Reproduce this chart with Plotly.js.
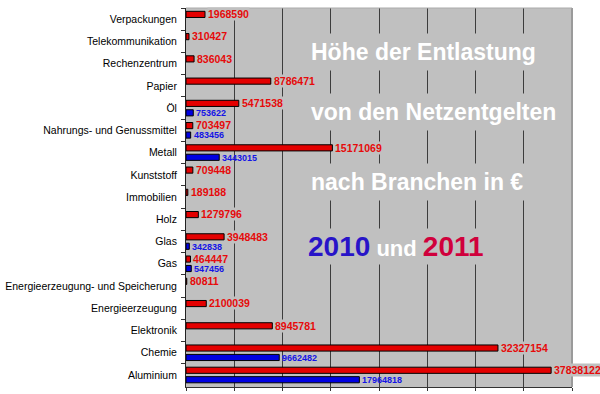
<!DOCTYPE html>
<html><head><meta charset="utf-8">
<script src="https://cdn.plot.ly/plotly-3.0.1.min.js"></script>
<style>html,body{margin:0;padding:0;background:#fff}#chart{width:600px;height:394px}</style>
</head><body><div id="chart"></div>
<script>
const categories = ["Verpackungen","Telekommunikation","Rechenzentrum","Papier","Öl","Nahrungs- und Genussmittel","Metall","Kunststoff","Immobilien","Holz","Glas","Gas","Energieerzeugung- und Speicherung","Energieerzeugung","Elektronik","Chemie","Aluminium"];
const values2011 = [1968590,310427,836043,8786471,5471538,703497,15171069,709448,189188,1279796,3948483,464447,80811,2100039,8945781,32327154,37838122];
const values2010 = [null,null,null,null,753622,483456,3443015,null,null,null,342838,547456,null,null,null,9662482,17964818];
const titleLines = ["Höhe der Entlastung","von den Netzentgelten","nach Branchen in €"];
const yearLabels = ["2010","und","2011"];

const RED = "rgb(228,0,0)", BLUE = "rgb(0,0,225)";
const GRAY = "rgb(192,192,192)";
const FONT = "Liberation Sans, Arial, sans-serif";

const traces = [
  {type:"bar", orientation:"h", name:"2011", y:categories, x:values2011,
   marker:{color:RED, line:{color:"#000", width:1}}, hoverinfo:"x+y"},
  {type:"bar", orientation:"h", name:"2010", y:categories, x:values2010,
   marker:{color:BLUE, line:{color:"#000", width:1}}, hoverinfo:"x+y"}
];

const annotations = [];
categories.forEach((c,i)=>{
  if (values2011[i] != null) annotations.push({x:values2011[i], y:c, xref:"x", yref:"y",
    text:String(values2011[i]), showarrow:false, xanchor:"left", yanchor:"middle",
    xshift:2, yshift:5, bgcolor:GRAY, borderpad:0,
    font:{family:FONT, size:10.5, color:"rgb(230,10,10)", weight:"bold"}});
  if (values2010[i] != null) annotations.push({x:values2010[i], y:c, xref:"x", yref:"y",
    text:String(values2010[i]), showarrow:false, xanchor:"left", yanchor:"middle",
    xshift:2, yshift:-5, borderpad:0,
    font:{family:FONT, size:9, color:"rgb(20,20,230)", weight:"bold"}});
});
const titleY = [0.884, 0.7256, 0.5422];
titleLines.forEach((t,i)=>annotations.push({x:0.308, y:titleY[i], xref:"paper", yref:"paper",
  text:t, showarrow:false, xanchor:"left", yanchor:"middle", bgcolor:GRAY, borderpad:5,
  font:{family:FONT, size:23, color:"#fff", weight:"bold"}}));
annotations.push({x:0.308, y:0.3707, xref:"paper", yref:"paper",
  text:'<span style="color:rgb(40,20,200);font-size:28px">'+yearLabels[0]+'</span> '+yearLabels[1]+' <span style="color:rgb(208,0,60);font-size:28px">'+yearLabels[2]+'</span>',
  showarrow:false, xanchor:"left", yanchor:"middle", bgcolor:GRAY, borderpad:2,
  font:{family:FONT, size:22, color:"#fff", weight:"bold"}});

const layout = {
  width:600, height:394,
  margin:{l:186, r:28, t:8, b:7, pad:0},
  paper_bgcolor:"#fff", plot_bgcolor:GRAY,
  showlegend:false,
  barmode:"group", bargap:0.15, bargroupgap:0.35,
  font:{family:FONT, color:"#000"},
  xaxis:{range:[0,40000000], dtick:5000000, tick0:0, showticklabels:false,
    showgrid:true, gridcolor:"#3c3c3c", gridwidth:1, zeroline:false,
    ticks:"outside", ticklen:3, tickcolor:"#333", showline:true, linecolor:"#333", linewidth:1},
  yaxis:{type:"category", autorange:"reversed", ticks:"outside", tickson:"boundaries",
    ticklen:4, tickcolor:"#333", showline:true, linecolor:"#222", linewidth:1,
    ticklabelstandoff:6,
    showgrid:false, zeroline:false, tickfont:{family:FONT, size:10.5, color:"#000"}},
  shapes:[
    {type:"line", xref:"paper", yref:"paper", x0:1, x1:1, y0:0, y1:1, line:{color:"#9a9a9a", width:2}},
    {type:"line", xref:"paper", yref:"paper", x0:0, x1:1, y0:1, y1:1, line:{color:"#aaaaaa", width:1}}
  ],
  annotations:annotations
};
Plotly.newPlot("chart", traces, layout, {displayModeBar:false, staticPlot:true});
</script></body></html>
